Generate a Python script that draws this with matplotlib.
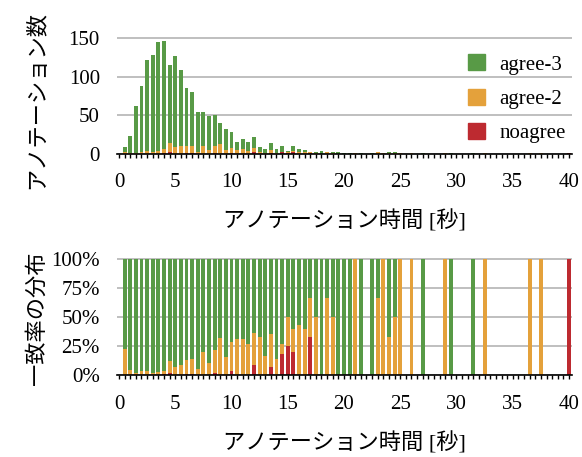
import numpy as np
import matplotlib
matplotlib.use("Agg")
import matplotlib.pyplot as plt
from matplotlib.ticker import MultipleLocator, FixedLocator
from matplotlib.patches import Patch

plt.rcParams['font.serif'] = ['Liberation Serif', 'DejaVu Serif']
plt.rcParams['font.family'] = ['serif', 'Noto Sans CJK JP']

# bin centres, 0.5 s each (0.5 .. 40.0)
time_s = np.arange(1, 81) * 0.5

agree3 = [7, 23, 61, 85, 118, 125, 141, 140, 101, 118,
          99, 74, 69, 52, 44, 44, 39, 27, 27, 20,
          11, 13, 11, 14, 6, 5, 9, 6, 8, 2,
          6, 4, 3, 1, 1, 4, 1, 1, 2, 1,
          1, 0, 1, 0, 1, 1, 0, 2, 1, 0,
          0, 0, 0, 1, 0, 0, 0, 0, 1, 0,
          0, 0, 1, 0, 0, 0, 0, 0, 0, 0,
          0, 0, 0, 0, 0, 0, 0, 0, 0, 0]
agree2 = [2, 1, 1, 3, 4, 3, 4, 5, 12, 9,
          10, 10, 10, 3, 11, 5, 10, 13, 5, 7,
          5, 6, 4, 6, 3, 1, 4, 1, 1, 1,
          2, 3, 2, 1, 1, 0, 2, 1, 0, 0,
          0, 1, 0, 0, 0, 2, 1, 1, 1, 1,
          0, 1, 0, 0, 0, 0, 0, 1, 0, 0,
          0, 0, 0, 0, 1, 0, 0, 0, 0, 0,
          0, 0, 1, 0, 1, 0, 0, 0, 0, 0]
noagree = [0, 0, 0, 0, 0, 0, 0, 1, 2, 0,
           0, 1, 1, 0, 0, 0, 1, 0, 0, 1,
           0, 0, 0, 2, 0, 0, 1, 0, 2, 1,
           2, 0, 0, 1, 0, 0, 0, 0, 0, 0,
           0, 0, 0, 0, 0, 0, 0, 0, 0, 0,
           0, 0, 0, 0, 0, 0, 0, 0, 0, 0,
           0, 0, 0, 0, 0, 0, 0, 0, 0, 0,
           0, 0, 0, 0, 0, 0, 0, 0, 0, 1]

labels = ['agree-3', 'agree-2', 'noagree']
green, orange, red = '#589a46', '#e4a13b', '#bd2a30'
grid_c = '#b4b4b4'

g = np.array(agree3, float)
o = np.array(agree2, float)
r = np.array(noagree, float)
tot = g + o + r
has = tot > 0

fig = plt.figure(figsize=(5.82, 4.57), dpi=100)
ax1 = fig.add_axes([0.2002, 0.663, 0.7823, 0.270])
ax2 = fig.add_axes([0.2002, 0.1788, 0.7823, 0.2595])

w = 0.35
ax1.bar(time_s, r, w, color=red, zorder=2)
ax1.bar(time_s, o, w, bottom=r, color=orange, zorder=2)
ax1.bar(time_s, g, w, bottom=r + o, color=green, zorder=2)

t = time_s[has]
pr = r[has] / tot[has]
po = o[has] / tot[has]
pg = g[has] / tot[has]
ax2.bar(t, pr, w, color=red, zorder=2)
ax2.bar(t, po, w, bottom=pr, color=orange, zorder=2)
ax2.bar(t, pg, w, bottom=pr + po, color=green, zorder=2)

ax1.set_ylim(0, 160)
ax1.yaxis.set_major_locator(FixedLocator([0, 50, 100, 150]))
ax2.set_ylim(0, 1.02)
ax2.yaxis.set_major_locator(FixedLocator([0, 0.25, 0.5, 0.75, 1.0]))
ax2.set_yticklabels(['0%', '25%', '50%', '75%', '100%'])

for ax in (ax1, ax2):
    ax.set_xlim(-0.22, 40.25)
    ax.xaxis.set_major_locator(MultipleLocator(5))
    ax.xaxis.set_minor_locator(MultipleLocator(0.5))
    for s in ('top', 'right', 'left'):
        ax.spines[s].set_visible(False)
    ax.spines['bottom'].set_linewidth(1.2)
    ax.spines['bottom'].set_zorder(3)
    ax.grid(axis='y', color=grid_c, linewidth=1.2, zorder=0)
    ax.set_axisbelow(True)
    ax.tick_params(axis='x', which='both', length=3, width=1, direction='out',
                   labelsize=15, pad=11)
    ax.tick_params(axis='y', length=0, labelsize=15, pad=12)
    ax.set_xlabel('アノテーション時間 [秒]', fontsize=16, labelpad=13)

ax1.set_ylabel('アノテーション数', fontsize=16)
ax2.set_ylabel('一致率の分布', fontsize=16)
ax1.yaxis.set_label_coords(-0.15, 0.44)
ax2.yaxis.set_label_coords(-0.15, 0.48)

handles = [Patch(color=green), Patch(color=orange), Patch(color=red)]
ax1.legend(handles, labels, loc='upper right', bbox_to_anchor=(1.005, 0.875),
           frameon=False, fontsize=15, handlelength=0.8, handleheight=0.8,
           handletextpad=0.7, labelspacing=0.68, borderaxespad=0)

fig.savefig('out.png', dpi=100)
